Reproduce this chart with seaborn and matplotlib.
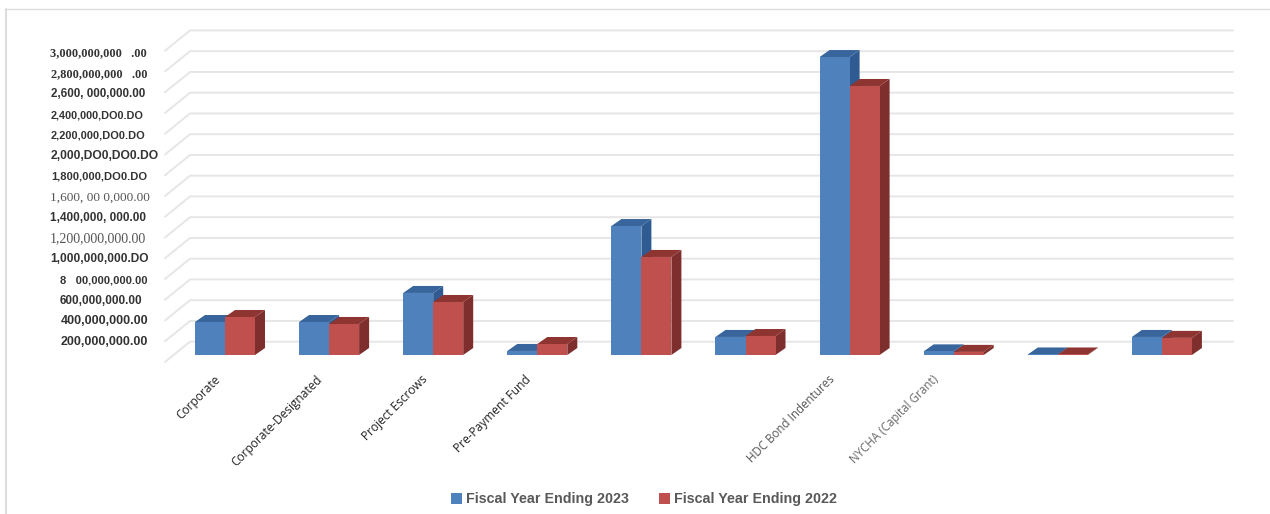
import matplotlib
matplotlib.use("Agg")
import matplotlib.pyplot as plt
from matplotlib.lines import Line2D
from matplotlib.transforms import blended_transform_factory
import pandas as pd
import seaborn as sns

# values, in dollars
fy2023 = [318e6, 318e6, 598e6, 39e6, 1243e6, 174e6, 2872e6, 35e6, 5e6, 174e6]
fy2022 = [366e6, 299e6, 511e6, 106e6, 945e6, 183e6, 2593e6, 30e6, 5e6, 165e6]
series_names = ["Fiscal Year Ending 2023", "Fiscal Year Ending 2022"]
# some categories have no label in the source
category_labels = ["Corporate", "Corporate-Designated", "Project Escrows", "Pre-Payment Fund", "",
                   "", "HDC Bond Indentures", "NYCHA (Capital Grant)", "", ""]
label_colors = ["#222222", "#222222", "#222222", "#222222", "#222222",
                "#222222", "#555555", "#666666", "#222222", "#222222"]
label_sizes = [8.6, 8.6, 8.6, 8.6, 8.6, 8.6, 8.3, 8.3, 8.6, 8.6]
label_shift = [-11, -13, -12, -13, 0, 0, -21, -22, 0, 0]

grid_values = [v * 200e6 for v in range(16)]
# the axis labels are kept as they appear, scan errors included
axis_labels = ["200,000,000.00", "400,000,000.00", "600,000,000.00", "8   00,000,000.00",
               "1,000,000,000.DO", "1,200,000,000.00", "1,400,000, 000.00", "1,600, 00 0,000.00",
               "1,800,000,DO0.DO", "2,000,DO0,DO0.DO", "2,200,000,DO0.DO", "2,400,000,DO0.DO",
               "2,600, 000,000.00", "2,800,000,000   .00", "3,000,000,000   .00"]
axis_fonts = ["Liberation Sans", "Liberation Sans", "Liberation Sans", "Liberation Sans",
              "Liberation Sans", "Liberation Serif", "Liberation Sans", "Liberation Serif",
              "Liberation Sans", "Liberation Sans", "Liberation Sans", "Liberation Sans",
              "Liberation Sans", "Liberation Serif", "Liberation Serif"]
axis_weights = ["bold", "bold", "bold", "bold", "bold", "normal", "bold", "normal",
                "bold", "bold", "bold", "bold", "bold", "bold", "bold"]
axis_colors = ["#333333", "#333333", "#333333", "#333333", "#333333", "#555555", "#333333", "#555555",
               "#333333", "#333333", "#333333", "#333333", "#333333", "#333333", "#333333"]
axis_sizes = [9.0, 9.0, 8.5, 8.0, 8.6, 10.0, 8.5, 9.5, 8.0, 8.7, 7.9, 7.8, 8.4, 8.8, 8.9]
axis_left = [61, 61, 60, 60, 50, 50, 50, 50, 51, 51, 51, 51, 51, 51, 50]

blue, blue_side, blue_top = "#4F81BD", "#2F5B92", "#38659B"
red, red_side, red_top = "#C0504D", "#7E2E2C", "#8E3431"

W, H = 1270, 514
px_per_cat = 104.1
px_per_unit = 20.75 / 200e6
center0 = 225
zero_px = 355


def xpx(n):
    return n / px_per_cat


def ypx(n):
    return n / px_per_unit


sns.set_theme(style="white")
plt.rcParams["font.family"] = ["Open Sans", "DejaVu Sans"]

fig = plt.figure(figsize=(W / 100, H / 100), dpi=100)
left, right, top, bottom = 165, 1233, 30, 362
ax = fig.add_axes([left / W, 1 - bottom / H, (right - left) / W, (bottom - top) / H])

n = len(fy2023)
df = pd.DataFrame({
    "pos": list(range(n)) * 2,
    "value": fy2023 + fy2022,
    "series": [series_names[0]] * n + [series_names[1]] * n,
})
sns.barplot(data=df, x="pos", y="value", hue="series", palette=[blue, red],
            width=60 / px_per_cat, gap=0, saturation=1, ax=ax, zorder=5, legend=True,
            linewidth=0, edgecolor="none")

ax.set_xlim((left - center0) / px_per_cat, (right - center0) / px_per_cat)
ax.set_ylim(ypx(zero_px - bottom), ypx(zero_px - top))

# back wall and floor lines
for v in grid_values:
    front_y = v - ypx(7)
    back_y = v + ypx(13.3)
    back_x = (190 - center0) / px_per_cat
    ax.plot([ax.get_xlim()[0], back_x, ax.get_xlim()[1]], [front_y, back_y, back_y],
            color="#E6E6E6", lw=1.4, zorder=1, clip_on=False, solid_joinstyle="miter")

# depth faces of each bar
dx, dy = xpx(10), ypx(7)
for bars, side, cap, z in [(ax.containers[0], blue_side, blue_top, 2), (ax.containers[1], red_side, red_top, 3)]:
    for bar in bars:
        x0 = bar.get_x()
        x1 = x0 + bar.get_width()
        h = bar.get_height()
        ax.fill([x1, x1 + dx, x1 + dx, x1], [0, dy, h + dy, h], color=side, lw=0, zorder=z)
        ax.fill([x0, x0 + dx, x1 + dx, x1], [h, h + dy, h + dy, h], color=cap, lw=0, zorder=z)

ax.set_xticks(range(n))
ax.set_xticklabels([])
ax.set_yticks([])
ax.set_xlabel("")
ax.set_ylabel("")
ax.tick_params(length=0)
sns.despine(ax=ax, left=True, bottom=True)
ax.patch.set_alpha(0)

# rotated category labels end just under the bars
for i, name in enumerate(category_labels):
    if name:
        ax.annotate(name, xy=(i, 0), xycoords="data", xytext=(label_shift[i], -18), textcoords="offset pixels",
                    rotation=45, ha="right", va="top", rotation_mode="anchor",
                    fontsize=label_sizes[i], color=label_colors[i])

label_trans = blended_transform_factory(fig.transFigure, ax.transData)
for v, text, font, weight, color, size, x in zip(grid_values[1:], axis_labels, axis_fonts, axis_weights,
                                                axis_colors, axis_sizes, axis_left):
    # labels drift down a little towards the top of the scan
    ax.text(x / W, v - ypx(7.5 + 2 * v / 3e9), text, transform=label_trans,
            family=font, weight=weight, color=color, fontsize=size, ha="left", va="center", clip_on=False)

# page frame from the scan
fig.add_artist(Line2D([6 / W, 6 / W], [0, 1 - 9 / H], color="#DDDDDD", lw=1.5))
fig.add_artist(Line2D([6 / W, 1], [1 - 9 / H, 1 - 9 / H], color="#DDDDDD", lw=1))

handles, labels = ax.get_legend_handles_labels()
ax.get_legend().remove()
fig.legend(handles, labels, loc="center", bbox_to_anchor=(644 / W, 1 - 499 / H), ncol=2, frameon=False,
           prop={"family": "Liberation Sans", "weight": "bold", "size": 10.3}, labelcolor="#595959",
           handlelength=0.8, handleheight=0.8, handletextpad=0.25, columnspacing=2.1)

fig.savefig("out.png", dpi=100, facecolor="white")
